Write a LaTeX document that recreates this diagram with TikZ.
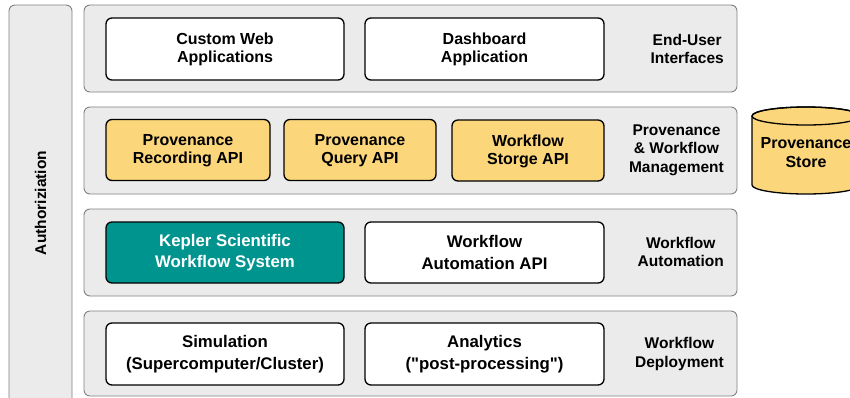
\documentclass[tikz,border=0pt]{standalone}
\usepackage{fontspec}
\setmainfont{Liberation Sans}
\definecolor{layerfill}{RGB}{235,235,235}
\definecolor{layerline}{RGB}{128,128,128}
\definecolor{provyellow}{RGB}{252,214,122}
\definecolor{keplerteal}{RGB}{0,148,143}
\tikzset{
  layer/.style={draw=layerline, fill=layerfill, line width=0.9pt, rounded corners=6pt},
  compbox/.style={draw=black, line width=1.3pt, rounded corners=6pt, fill=white,
    align=center, inner sep=0pt, font=\bfseries\fontsize{16}{18}\selectfont},
  bigbox/.style={compbox, font=\bfseries\fontsize{16.8}{21.5}\selectfont},
  provbox/.style={compbox, fill=provyellow},
  layerlabel/.style={anchor=east, align=center, inner sep=0pt,
    font=\bfseries\fontsize{15.5}{18.5}\selectfont},
}
\begin{document}
\begin{tikzpicture}[x=1pt, y=-1pt]
\useasboundingbox (0,0) rectangle (850,397);

% authorization column
\draw[layer] (9,5) rectangle (72,404);
\node[rotate=90, font=\bfseries\fontsize{15.5}{18}\selectfont] (auth) at (40.5,203) {Authoriziation};

% layer backgrounds
\draw[layer] (84,5) rectangle (737,92);
\draw[layer] (84,107) rectangle (737,194);
\draw[layer] (84,209) rectangle (737,296);
\draw[layer] (84,311) rectangle (737,396);

% end-user interfaces
\node[compbox, minimum width=238pt, minimum height=62pt] (web) at (225,49) {\rule{0pt}{13pt}Custom Web\\Applications};
\node[compbox, minimum width=239pt, minimum height=62pt] (dash) at (484.5,49) {\rule{0pt}{13pt}Dashboard\\Application};
\node[layerlabel] (lab1) at (724,49) {End-User\\Interfaces};

% provenance & workflow management
\node[provbox, minimum width=164pt, minimum height=61pt] (rec) at (188,150) {\rule{0pt}{13pt}Provenance\\Recording API};
\node[provbox, minimum width=152pt, minimum height=61pt] (query) at (360,150) {\rule{0pt}{13pt}Provenance\\Query API};
\node[provbox, minimum width=152pt, minimum height=61pt] (store) at (528,150.5) {\rule{0pt}{13pt}Workflow\\Storge API};
\node[layerlabel] (lab2) at (724,150) {Provenance\\\& Workflow\\Management};

% workflow automation
\node[bigbox, fill=keplerteal, text=white, minimum width=238pt, minimum height=61pt] (kepler) at (225,252.5) {Kepler Scientific\\Workflow System};
\node[bigbox, minimum width=239pt, minimum height=61pt] (autoapi) at (484.5,252.5) {Workflow\\Automation API};
\node[layerlabel] (lab3) at (724,252) {Workflow\\Automation};

% workflow deployment
\node[bigbox, minimum width=238pt, minimum height=62pt] (sim) at (225,354) {Simulation\\(Supercomputer/Cluster)};
\node[bigbox, minimum width=239pt, minimum height=62pt] (ana) at (484.5,354) {Analytics\\(\textquotedbl post-processing\textquotedbl)};
\node[layerlabel] (lab4) at (724,354) {Workflow\\Deployment};

% provenance store cylinder
\filldraw[fill=provyellow, draw=black, line width=1.3pt]
  (752,116) -- (752,185)
  arc[start angle=180, end angle=360, x radius=54pt, y radius=9pt]
  -- (860,116)
  arc[start angle=0, end angle=180, x radius=54pt, y radius=9pt] -- cycle;
\draw[line width=1.3pt] (806,116) ellipse [x radius=54pt, y radius=9pt];
\node[align=center, font=\bfseries\fontsize{16}{19}\selectfont] (pstore) at (806,153) {Provenance\\Store};
\end{tikzpicture}
\end{document}
